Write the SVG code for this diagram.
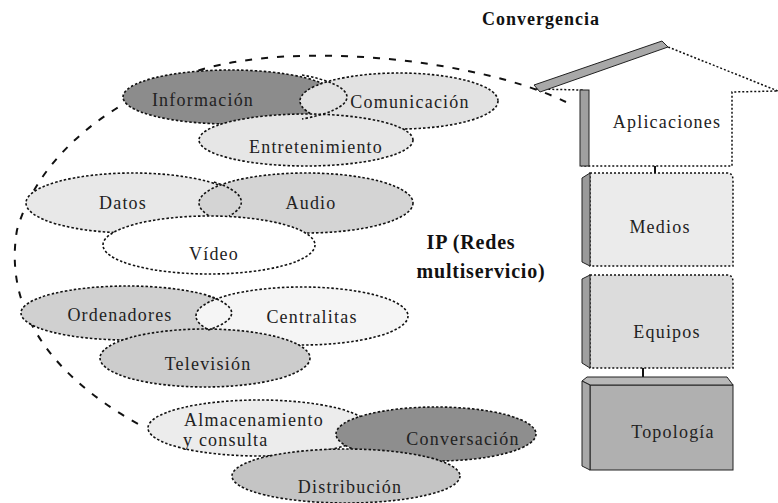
<svg xmlns="http://www.w3.org/2000/svg" width="778" height="503" viewBox="0 0 778 503">
<style>
.ell{stroke:#111;stroke-width:1.6;stroke-dasharray:2.5 2}
.ol{fill:none;stroke:#111;stroke-width:1.6;stroke-dasharray:2.5 2}
.lbl{font-family:"Liberation Serif","Times New Roman",serif;font-size:18px;letter-spacing:1.2px;fill:#222;text-anchor:middle}
.lbl-s{font-family:"Liberation Serif","Times New Roman",serif;font-size:18px;letter-spacing:1.2px;fill:#222;text-anchor:start}
.ttl{font-family:"Liberation Serif","Times New Roman",serif;font-weight:bold;fill:#111;text-anchor:middle}
.box{stroke:#111;stroke-width:1.5;stroke-dasharray:2 2}
.band{stroke:#222;stroke-width:1}
.conn{fill:none;stroke:#111;stroke-width:2}
</style>
<rect width="778" height="503" fill="#fff"/>

<g id="connectors">
  <path class="conn" d="M 566,102 C 480,60 300,40 200,70 C 120,95 40,150 17,230 C 5,300 40,370 140,425" stroke-dasharray="7 9"/>
  <line class="conn" x1="655" y1="166" x2="655" y2="173" stroke-width="1.5"/>
  <line class="conn" x1="643" y1="368" x2="643" y2="377" stroke-width="1.5"/>
</g>

<text id="title" class="ttl" x="541" y="25" font-size="18" letter-spacing="1">Convergencia</text>

<g id="informacion">
  <ellipse class="ell" cx="230" cy="97" rx="107" ry="27" fill="#8c8c8c"/>
  <text class="lbl" x="203" y="106" fill="#111">Información</text>
</g>
<g id="comunicacion">
  <ellipse class="ell" cx="399" cy="101" rx="99" ry="28" fill="#e2e2e2"/>
  <text class="lbl" x="410" y="108">Comunicación</text>
</g>
<g id="entretenimiento">
  <ellipse class="ell" cx="306" cy="140" rx="107" ry="26" fill="#e6e6e6"/>
  <text class="lbl" x="316" y="153">Entretenimiento</text>
</g>

<g id="datos">
  <ellipse class="ell" cx="133" cy="203" rx="107" ry="30" fill="#e8e8e8"/>
  <text class="lbl" x="123" y="209">Datos</text>
</g>
<g id="audio">
  <ellipse class="ell" cx="306" cy="203" rx="107" ry="30" fill="#d4d4d4"/>
  <text class="lbl" x="311" y="209">Audio</text>
</g>
<g id="video">
  <ellipse class="ell" cx="209" cy="245" rx="106" ry="29" fill="#ffffff"/>
  <text class="lbl" x="214" y="260">Vídeo</text>
</g>

<g id="ordenadores">
  <ellipse class="ell" cx="127" cy="313" rx="106" ry="27" fill="#d0d0d0"/>
  <text class="lbl" x="120" y="321">Ordenadores</text>
</g>
<g id="centralitas">
  <ellipse class="ell" cx="302" cy="316" rx="106" ry="29" fill="#f5f5f5"/>
  <text class="lbl" x="312" y="323">Centralitas</text>
</g>
<g id="television">
  <ellipse class="ell" cx="205" cy="358" rx="105" ry="29" fill="#cccccc"/>
  <text class="lbl" x="208" y="370">Televisión</text>
</g>

<g id="almacenamiento">
  <ellipse class="ell" cx="259" cy="428" rx="111" ry="28" fill="#ececec"/>
  <text class="lbl" x="254" y="426">Almacenamiento</text>
  <text class="lbl-s" x="183" y="446">y consulta</text>
</g>
<g id="conversacion">
  <ellipse class="ell" cx="436" cy="434" rx="100" ry="27" fill="#8e8e8e"/>
  <text class="lbl" x="463" y="445" fill="#111">Conversación</text>
</g>
<g id="distribucion">
  <ellipse class="ell" cx="346" cy="476" rx="114" ry="27" fill="#c4c4c4"/>
  <text class="lbl" x="350" y="493">Distribución</text>
</g>

<g id="overlap-outlines">
  <path class="ol" d="M 302,75 A 107,27 0 0 1 302,119"/>
  <path class="ol" d="M 214,182 A 107,30 0 0 1 229,216"/>
  <path class="ol" d="M 208,296 A 106,27 0 0 1 208,330"/>
</g>

<text id="ip" class="ttl" font-size="20" letter-spacing="0.8"><tspan x="471" y="249">IP (Redes</tspan><tspan x="481" y="278">multiservicio)</tspan></text>

<g id="aplicaciones">
  <polygon class="box" points="536,89 663,45 778,91 732,92 732,166 582,166 582,90" fill="#ffffff"/>
  <polygon class="band" points="534,85 662,41 668,47 540,92" fill="#a8a8a8"/>
  <rect class="band" x="580" y="90" width="9" height="76" fill="#a0a0a0"/>
  <text class="lbl" x="667" y="128">Aplicaciones</text>
</g>

<g id="medios">
  <path class="box" d="M 590,173 L 727,173 Q 733,173 733,180 L 733,266 L 590,266 Z" fill="#ebebeb"/>
  <polygon class="band" points="582,178 590,173 590,266 582,262" fill="#9a9a9a"/>
  <text class="lbl" x="660" y="233">Medios</text>
</g>

<g id="equipos">
  <path class="box" d="M 590,275 L 727,275 Q 733,275 733,282 L 733,368 L 590,368 Z" fill="#dcdcdc"/>
  <polygon class="band" points="582,279 590,275 590,368 582,363" fill="#a0a0a0"/>
  <text class="lbl" x="667" y="338">Equipos</text>
</g>

<g id="topologia">
  <rect class="band" x="590" y="385" width="143" height="85" fill="#b0b0b0" stroke-width="1.6"/>
  <polygon class="band" points="582,381 587,377 727,377 733,385 590,385" fill="#b8b8b8"/>
  <polygon class="band" points="582,381 590,385 590,470 582,466" fill="#a8a8a8"/>
  <text class="lbl" x="673" y="438">Topología</text>
</g>
</svg>
